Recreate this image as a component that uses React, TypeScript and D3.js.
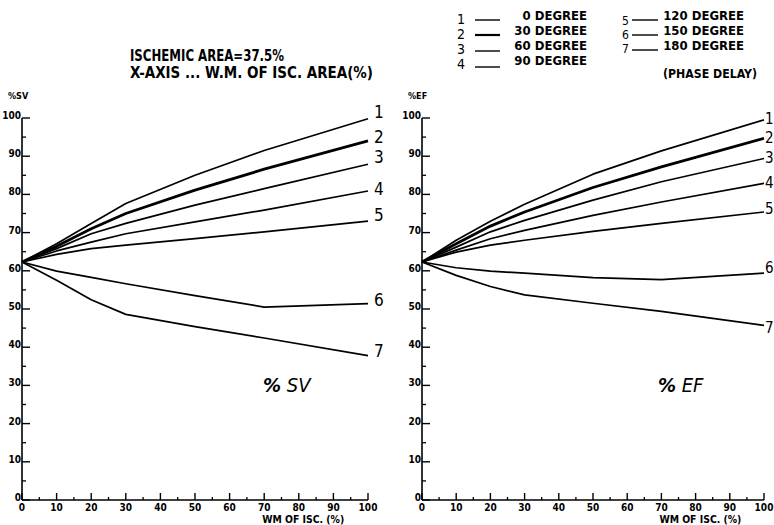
import React from "react";
import * as d3 from "d3";

const xValues = [0, 10, 20, 30, 50, 70, 100];
const seriesIds = ["1", "2", "3", "4", "5", "6", "7"];
const legendDegrees = ["0", "30", "60", "90", "120", "150", "180"];

const sv1 = [62.3, 67.1, 72.4, 77.6, 85.0, 91.5, 99.8];
const sv2 = [62.3, 66.4, 71.0, 75.0, 81.1, 86.6, 94.0];
const sv3 = [62.3, 65.8, 69.7, 72.4, 77.2, 81.5, 87.9];
const sv4 = [62.3, 65.2, 67.5, 69.7, 72.8, 75.9, 80.9];
const sv5 = [62.3, 64.3, 65.8, 66.7, 68.4, 70.2, 73.0];
const sv6 = [62.3, 59.9, 58.3, 56.6, 53.5, 50.5, 51.4];
const sv7 = [62.3, 57.5, 52.4, 48.6, 45.4, 42.4, 37.8];

const ef1 = [62.3, 68.0, 73.0, 77.4, 85.3, 91.4, 99.5];
const ef2 = [62.3, 67.1, 71.7, 75.4, 81.8, 87.2, 94.7];
const ef3 = [62.3, 66.2, 70.2, 73.2, 78.5, 83.3, 89.4];
const ef4 = [62.3, 65.4, 68.4, 70.6, 74.5, 78.0, 82.9];
const ef5 = [62.3, 64.9, 66.7, 68.0, 70.3, 72.4, 75.4];
const ef6 = [62.3, 60.8, 59.9, 59.4, 58.2, 57.7, 59.4];
const ef7 = [62.3, 58.8, 55.9, 53.7, 51.5, 49.4, 45.7];

const yTicks = [0, 10, 20, 30, 40, 50, 60, 70, 80, 90, 100];
const xTicks = [0, 10, 20, 30, 40, 50, 60, 70, 80, 90, 100];

const FONT = "'DejaVu Sans Condensed', 'DejaVu Sans', sans-serif";

type PanelProps = {
  left: number;
  right: number;
  series: number[][];
  yTitle: string;
  inner: string;
  innerX: number;
  labelYs: number[];
  labelDx: number;
};

function Panel({ left, right, series, yTitle, inner, innerX, labelYs, labelDx }: PanelProps) {
  const x = d3.scaleLinear().domain([0, 100]).range([left, right]);
  const y = d3.scaleLinear().domain([0, 100]).range([500, 118]);
  const line = d3
    .line<number>()
    .x((_, i) => x(xValues[i]))
    .y((d) => y(d));
  const minor = d3.range(5, 100, 10);
  return (
    <g>
      <line x1={x(0)} x2={x(0)} y1={y(0)} y2={y(100)} stroke="#000" strokeWidth={1.6} />
      <line x1={x(0)} x2={x(100)} y1={y(0)} y2={y(0)} stroke="#000" strokeWidth={1.6} />
      {yTicks.map((t) => (
        <g key={"yt" + t}>
          <line x1={x(0)} x2={x(0) + 8} y1={y(t)} y2={y(t)} stroke="#000" strokeWidth={1.4} />
          <text
            x={x(0) - 1}
            y={y(t) + 1}
            textAnchor="end"
            fontFamily={FONT}
            fontWeight="bold"
            fontSize={10}
          >
            {t}
          </text>
        </g>
      ))}
      {minor.map((t) => (
        <line key={"ym" + t} x1={x(0)} x2={x(0) + 4} y1={y(t)} y2={y(t)} stroke="#000" strokeWidth={1.3} />
      ))}
      {xTicks.map((t) => (
        <g key={"xt" + t}>
          <line x1={x(t)} x2={x(t)} y1={y(0)} y2={y(0) - 7} stroke="#000" strokeWidth={1.4} />
          <text
            x={x(t)}
            y={y(0) + 11}
            textAnchor="middle"
            fontFamily={FONT}
            fontWeight="bold"
            fontSize={10}
          >
            {t}
          </text>
        </g>
      ))}
      {minor.map((t) => (
        <line key={"xm" + t} x1={x(t)} x2={x(t)} y1={y(0)} y2={y(0) - 3} stroke="#000" strokeWidth={1.3} />
      ))}
      <text x={x(0) - 14} y={y(100) - 19} fontFamily={FONT} fontWeight="bold" fontSize={9}>
        {yTitle}
      </text>
      <text
        x={x(70) - 2}
        y={523}
        fontFamily={FONT}
        fontWeight="bold"
        fontSize={10}
        textLength={82}
        lengthAdjust="spacingAndGlyphs"
      >
        WM OF ISC. (%)
      </text>
      {series.map((s, i) => (
        <path
          key={"s" + i}
          d={line(s) || ""}
          fill="none"
          stroke="#000"
          strokeWidth={i === 1 ? 2.8 : 1.7}
          strokeLinejoin="round"
        />
      ))}
      {series.map((s, i) => (
        <text
          key={"l" + i}
          x={x(100) + labelDx}
          y={labelYs[i] + 6}
          fontFamily={FONT}
          fontSize={labelDx < 4 ? 15 : 17}
        >
          {seriesIds[i]}
        </text>
      ))}
      <text x={innerX} y={392} fontFamily={FONT} fontStyle="italic" fontSize={20}>
        <tspan fontWeight="bold">%</tspan> {inner}
      </text>
    </g>
  );
}

export default function App() {
  const svSeries = [sv1, sv2, sv3, sv4, sv5, sv6, sv7];
  const efSeries = [ef1, ef2, ef3, ef4, ef5, ef6, ef7];
  const legendRowsLeft = [0, 1, 2, 3];
  const legendRowsRight = [4, 5, 6];
  const textBase = [20, 35, 50, 65];
  const lineYLeft = [20, 35, 51, 67];
  const lineYRight = [20, 35, 50];
  const digitBaseLeft = [24, 39, 54, 69];
  const digitBaseRight = [25, 39, 53];
  return (
    <svg
      width={774}
      height={525}
      style={{ position: "absolute", left: 0, top: 0, background: "#fff" }}
    >
      <rect width={774} height={525} fill="#fff" />
      <text
        x={130}
        y={61}
        fontFamily={FONT}
        fontWeight="bold"
        fontSize={15}
        textLength={154}
        lengthAdjust="spacingAndGlyphs"
      >
        ISCHEMIC AREA=37.5%
      </text>
      <text
        x={130}
        y={78}
        fontFamily={FONT}
        fontWeight="bold"
        fontSize={15}
        textLength={243}
        lengthAdjust="spacingAndGlyphs"
      >
        X-AXIS ... W.M. OF ISC. AREA(%)
      </text>
      {legendRowsLeft.map((i, r) => (
        <g key={"lg" + i}>
          <text x={457} y={digitBaseLeft[r]} fontFamily={FONT} fontSize={14}>
            {seriesIds[i]}
          </text>
          <line
            x1={475}
            x2={500}
            y1={lineYLeft[r]}
            y2={lineYLeft[r]}
            stroke="#000"
            strokeWidth={i === 1 ? 2.2 : 1.4}
          />
          <text
            x={587}
            y={textBase[r]}
            textAnchor="end"
            fontFamily={FONT}
            fontWeight={i === 1 ? 900 : "bold"}
            fontSize={13}
          >
            {legendDegrees[i] + " DEGREE"}
          </text>
        </g>
      ))}
      {legendRowsRight.map((i, r) => (
        <g key={"lg" + i}>
          <text x={622} y={digitBaseRight[r]} fontFamily={FONT} fontSize={12}>
            {seriesIds[i]}
          </text>
          <line
            x1={632}
            x2={658}
            y1={lineYRight[r]}
            y2={lineYRight[r]}
            stroke="#000"
            strokeWidth={1.4}
          />
          <text x={744} y={textBase[r]} textAnchor="end" fontFamily={FONT} fontWeight="bold" fontSize={13}>
            {legendDegrees[i] + " DEGREE"}
          </text>
        </g>
      ))}
      <text
        x={663}
        y={78}
        fontFamily={FONT}
        fontWeight="bold"
        fontSize={13}
        textLength={94}
        lengthAdjust="spacingAndGlyphs"
      >
        (PHASE DELAY)
      </text>
      <Panel
        left={22}
        right={368}
        series={svSeries}
        yTitle="%SV"
        inner="SV"
        innerX={263}
        labelYs={[112, 137, 157, 189, 215, 300, 351]}
        labelDx={6}
      />
      <Panel
        left={422}
        right={764}
        series={efSeries}
        yTitle="%EF"
        inner="EF"
        innerX={658}
        labelYs={[118, 137, 157, 182, 208, 267, 327]}
        labelDx={1}
      />
    </svg>
  );
}
